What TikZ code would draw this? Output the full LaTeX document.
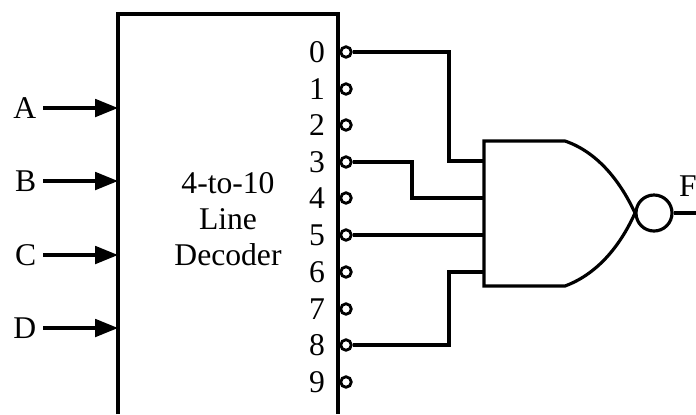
\documentclass[tikz,border=0pt]{standalone}
\usepackage{fontspec}
\setmainfont{Liberation Serif}
\usetikzlibrary{arrows.meta}
\begin{document}
\begin{tikzpicture}[x=0.02cm,y=-0.02cm,line width=1.8pt,
  pin/.style={circle,draw,line width=1.6pt,fill=white,inner sep=0pt,minimum size=6pt},
  inlabel/.style={anchor=east,inner sep=3pt,font=\fontsize{18}{20}\selectfont},
  digit/.style={font=\fontsize{18}{20}\selectfont}]
\useasboundingbox (0,0) rectangle (696,414);
% Draw the decoder box, its bottom is cut off
\draw (118,414) -- (118,14) -- (338,14) -- (338,414);
\node[align=center,font=\fontsize{18}{20.7}\selectfont] (title) at (228,219) {4-to-10\\Line\\Decoder};
% Draw the inputs on the left
\foreach \n/\y in {A/108,B/181,C/255,D/328}
{
  \node[inlabel] (\n) at (43,\y) {\n};
  \coordinate (in\n) at (118,\y);
  \draw[-{Triangle[length=13pt,width=10pt]}] (\n.east) -- (in\n);
}
% Draw the outputs on the right
\foreach \i/\y in {0/52,1/89,2/125,3/162,4/198,5/235,6/272,7/309,8/345,9/382}
{
  \node[digit] (d\i) at (317,\y) {\i};
  \node[pin] (p\i) at (346,\y) {};
}
% Draw the gate
\coordinate (i1) at (484,161);
\coordinate (i2) at (484,198);
\coordinate (i3) at (484,235);
\coordinate (i4) at (484,272);
\coordinate (tip) at (635,213);
\draw[line join=miter] (484,141) -- (565,141) .. controls (600,153) and (622,185) .. (tip)
  .. controls (622,242) and (600,273) .. (565,286) -- (484,286) -- cycle;
\node[circle,draw,inner sep=0pt,minimum size=20.5pt] (bubble) at (654,213) {};
\node[inlabel,anchor=center,inner sep=0pt] (F) at (688,186) {F};
\coordinate (out) at (696,213);
\draw (bubble) -- (out);
% Wires from the outputs to the gate
\coordinate (b0) at (449,161);
\coordinate (b3) at (412,198);
\coordinate (b8) at (449,272);
\draw (p0) -| (b0) -- (i1);
\draw (p3) -| (b3) -- (i2);
\draw (p5) -- (i3);
\draw (p8) -| (b8) -- (i4);
\end{tikzpicture}
\end{document}
